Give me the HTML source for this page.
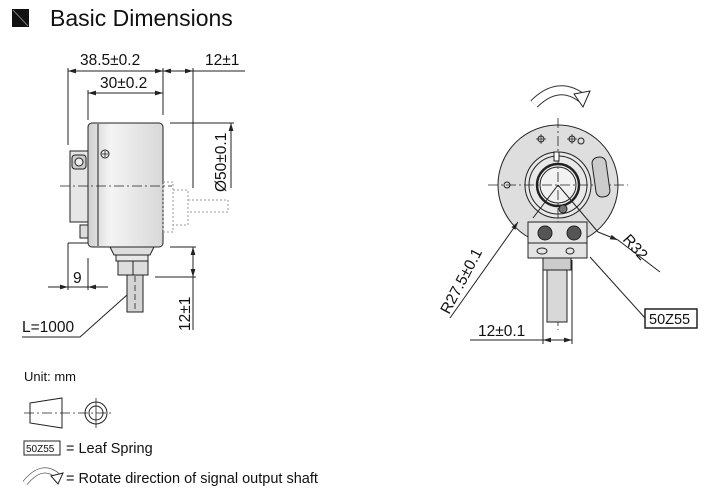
<!DOCTYPE html>
<html><head><meta charset="utf-8"><style>
html,body{margin:0;padding:0;background:#fff;}
svg{display:block;font-family:"Liberation Sans",Arial,sans-serif;}
</style></head><body>
<svg width="721" height="502" viewBox="0 0 721 502" xmlns="http://www.w3.org/2000/svg">
<defs>
<marker id="a" viewBox="0 0 10 6" refX="10" refY="3" markerWidth="8" markerHeight="5" orient="auto-start-reverse"><path d="M0,0L10,3L0,6z" fill="#222"/></marker>
<linearGradient id="g" x1="0" x2="1"><stop offset="0" stop-color="#cfcfcf"/><stop offset="0.3" stop-color="#f4f4f4"/><stop offset="1" stop-color="#d8d8d8"/></linearGradient>
</defs>
<rect x="12" y="9" width="17" height="18" fill="#111"/>
<line x1="13" y1="10" x2="28" y2="26" stroke="#777" stroke-width="1"/>
<text x="50" y="26" font-size="23" fill="#111">Basic Dimensions</text>

<g stroke="#222" stroke-width="1" fill="none">
<line x1="68" y1="71" x2="163" y2="71" marker-start="url(#a)" marker-end="url(#a)"/>
<line x1="163" y1="71" x2="193" y2="71" marker-start="url(#a)" marker-end="url(#a)"/>
<line x1="193" y1="71" x2="245" y2="71"/>
<line x1="88" y1="93" x2="163" y2="93" marker-start="url(#a)" marker-end="url(#a)"/>
<line x1="68" y1="68" x2="68" y2="145"/>
<line x1="163" y1="68" x2="163" y2="115"/>
<line x1="193" y1="68" x2="193" y2="188"/>
<line x1="88" y1="90" x2="88" y2="120"/>
<line x1="170" y1="123" x2="234" y2="123"/>
<line x1="231" y1="123" x2="231" y2="188" marker-start="url(#a)"/>
<rect x="88" y="123" width="75" height="124" rx="4" fill="url(#g)"/>
<line x1="98" y1="124" x2="98" y2="246"/>
<circle cx="105" cy="154" r="4" fill="#eee"/>
<path d="M102,154h6M105,151v6" stroke-width="0.8"/>
<rect x="70" y="151" width="18" height="71" fill="#e6e6e6"/>
<rect x="72" y="155" width="14" height="14" rx="3" fill="#ccc"/>
<circle cx="79" cy="162" r="4" fill="#eee"/>
<rect x="80" y="225" width="8" height="13" fill="#ddd"/>
<path d="M68,243v8M68,243h20"/>
<line x1="60" y1="186" x2="172" y2="186" stroke-dasharray="10,3,2,3" stroke-width="0.8"/>
<g stroke="#999" stroke-dasharray="2,2">
<rect x="163" y="182" width="10" height="50"/>
<path d="M173,190h15v35h-15M188,200h40v12h-40"/>
</g>
<path d="M110,247h44l-4,8h-36z" fill="#ddd"/>
<rect x="116" y="255" width="32" height="6" fill="#e8e8e8"/>
<rect x="118" y="261" width="30" height="14" fill="#ddd"/>
<line x1="133" y1="261" x2="133" y2="275"/>
<rect x="127" y="275" width="16" height="37" fill="#d4d4d4"/>
<line x1="135" y1="276" x2="135" y2="312" stroke-dasharray="6,3" stroke-width="0.8"/>
<line x1="170" y1="247" x2="196" y2="247"/>
<line x1="155" y1="277" x2="196" y2="277"/>
<line x1="193" y1="247" x2="193" y2="277" marker-start="url(#a)" marker-end="url(#a)"/>
<line x1="193" y1="277" x2="193" y2="330"/>
<line x1="68" y1="251" x2="68" y2="290"/>
<line x1="88" y1="258" x2="88" y2="290"/>
<line x1="48" y1="287" x2="68" y2="287" marker-end="url(#a)"/>
<line x1="88" y1="287" x2="108" y2="287" marker-start="url(#a)"/>
<line x1="68" y1="287" x2="88" y2="287"/>
<path d="M22,337h58l47,-42"/>

<path d="M534,104 Q558,80 582,98" stroke-width="10" stroke="#333" />
<path d="M534,104 Q558,80 582,98" stroke-width="8" stroke="#fff"/>
<path d="M574,94l16,-3l-7,16z" fill="#fff"/>
<circle cx="558" cy="185" r="60" fill="#dedede"/>
<circle cx="558" cy="185" r="33" fill="#e8e8e8"/>
<circle cx="558" cy="185" r="29"/>
<circle cx="558" cy="185" r="21" stroke-width="2.5" fill="#f2f2f2"/>
<circle cx="558" cy="185" r="18"/>
<line x1="488" y1="185" x2="628" y2="185" stroke-dasharray="10,3,2,3" stroke-width="0.8"/>
<line x1="558" y1="118" x2="558" y2="330" stroke-dasharray="10,3,2,3" stroke-width="0.8"/>
<circle cx="541" cy="139" r="3"/><path d="M536,139h10M541,134v10" stroke-width="0.7"/>
<circle cx="572" cy="139" r="3"/><path d="M567,139h10M572,134v10" stroke-width="0.7"/>
<circle cx="581" cy="141" r="3"/>
<circle cx="507" cy="185" r="3"/>
<rect x="594" y="157" width="14" height="40" rx="6" transform="rotate(-8 601 177)" fill="#ccc"/>
<circle cx="563" cy="209" r="4" fill="#777"/>
<rect x="554" y="152" width="5" height="9" fill="#fff"/>
<path d="M558,185l-25,33M558,185l40,47" />
<rect x="528" y="222" width="59" height="36" fill="#e4e4e4"/>
<line x1="528" y1="243" x2="587" y2="243"/>
<circle cx="545" cy="233" r="7" fill="#555"/><circle cx="574" cy="233" r="7" fill="#555"/>
<ellipse cx="542" cy="251" rx="5" ry="3"/><ellipse cx="570" cy="251" rx="4" ry="3"/>
<rect x="543" y="258" width="28" height="12" fill="#ccc"/>
<rect x="547" y="270" width="20" height="52" fill="#d8d8d8"/>
<path d="M518,222 L450,318" marker-start="url(#a)"/>
<path d="M618,240 L660,272"/>
<path d="M598,232 L618,240" marker-end="url(#a)"/>
<path d="M590,257 L645,318"/>
<line x1="543" y1="260" x2="543" y2="344"/>
<line x1="572" y1="260" x2="572" y2="344"/>
<line x1="470" y1="340" x2="543" y2="340"/>
<line x1="543" y1="340" x2="572" y2="340" marker-start="url(#a)" marker-end="url(#a)"/>
<rect x="645" y="309" width="52" height="19" stroke-width="1.5"/>

<path d="M30,403 L62,398 V428 L30,423 z"/>
<line x1="24" y1="413" x2="112" y2="413" stroke-dasharray="10,3,2,3" stroke-width="0.8"/>
<circle cx="96" cy="413" r="11"/><circle cx="96" cy="413" r="7"/>
<line x1="96" y1="398" x2="96" y2="428" stroke-width="0.8"/>
<rect x="24" y="441" width="36" height="14"/>
<path d="M25,483 Q42,462 58,476" stroke-width="6" stroke="#555"/>
<path d="M25,483 Q42,462 58,476" stroke-width="4.5" stroke="#fff"/>
<path d="M51,476l12,-3l-5,11z" fill="#fff"/>
</g>

<g font-size="15.5" fill="#111">
<text x="80" y="65">38.5±0.2</text>
<text x="205" y="65">12±1</text>
<text x="100" y="88">30±0.2</text>
<text transform="translate(226,192) rotate(-90)">Ø50±0.1</text>
<text transform="translate(190,331) rotate(-90)">12±1</text>
<text x="73" y="283">9</text>
<text x="22" y="332">L=1000</text>
<text transform="translate(449,315) rotate(-62)">R27.5±0.1</text>
<text transform="translate(622,240) rotate(48)">R32</text>
<text x="649" y="324" font-size="14.5">50Z55</text>
<text x="478" y="336">12±0.1</text>
<text x="24" y="381" font-size="13">Unit: mm</text>
<text x="26" y="452" font-size="10">50Z55</text>
<text x="66" y="453" font-size="14.5">= Leaf Spring</text>
<text x="66" y="483" font-size="14.5">= Rotate direction of signal output shaft</text>
</g>
</svg>
</body></html>
